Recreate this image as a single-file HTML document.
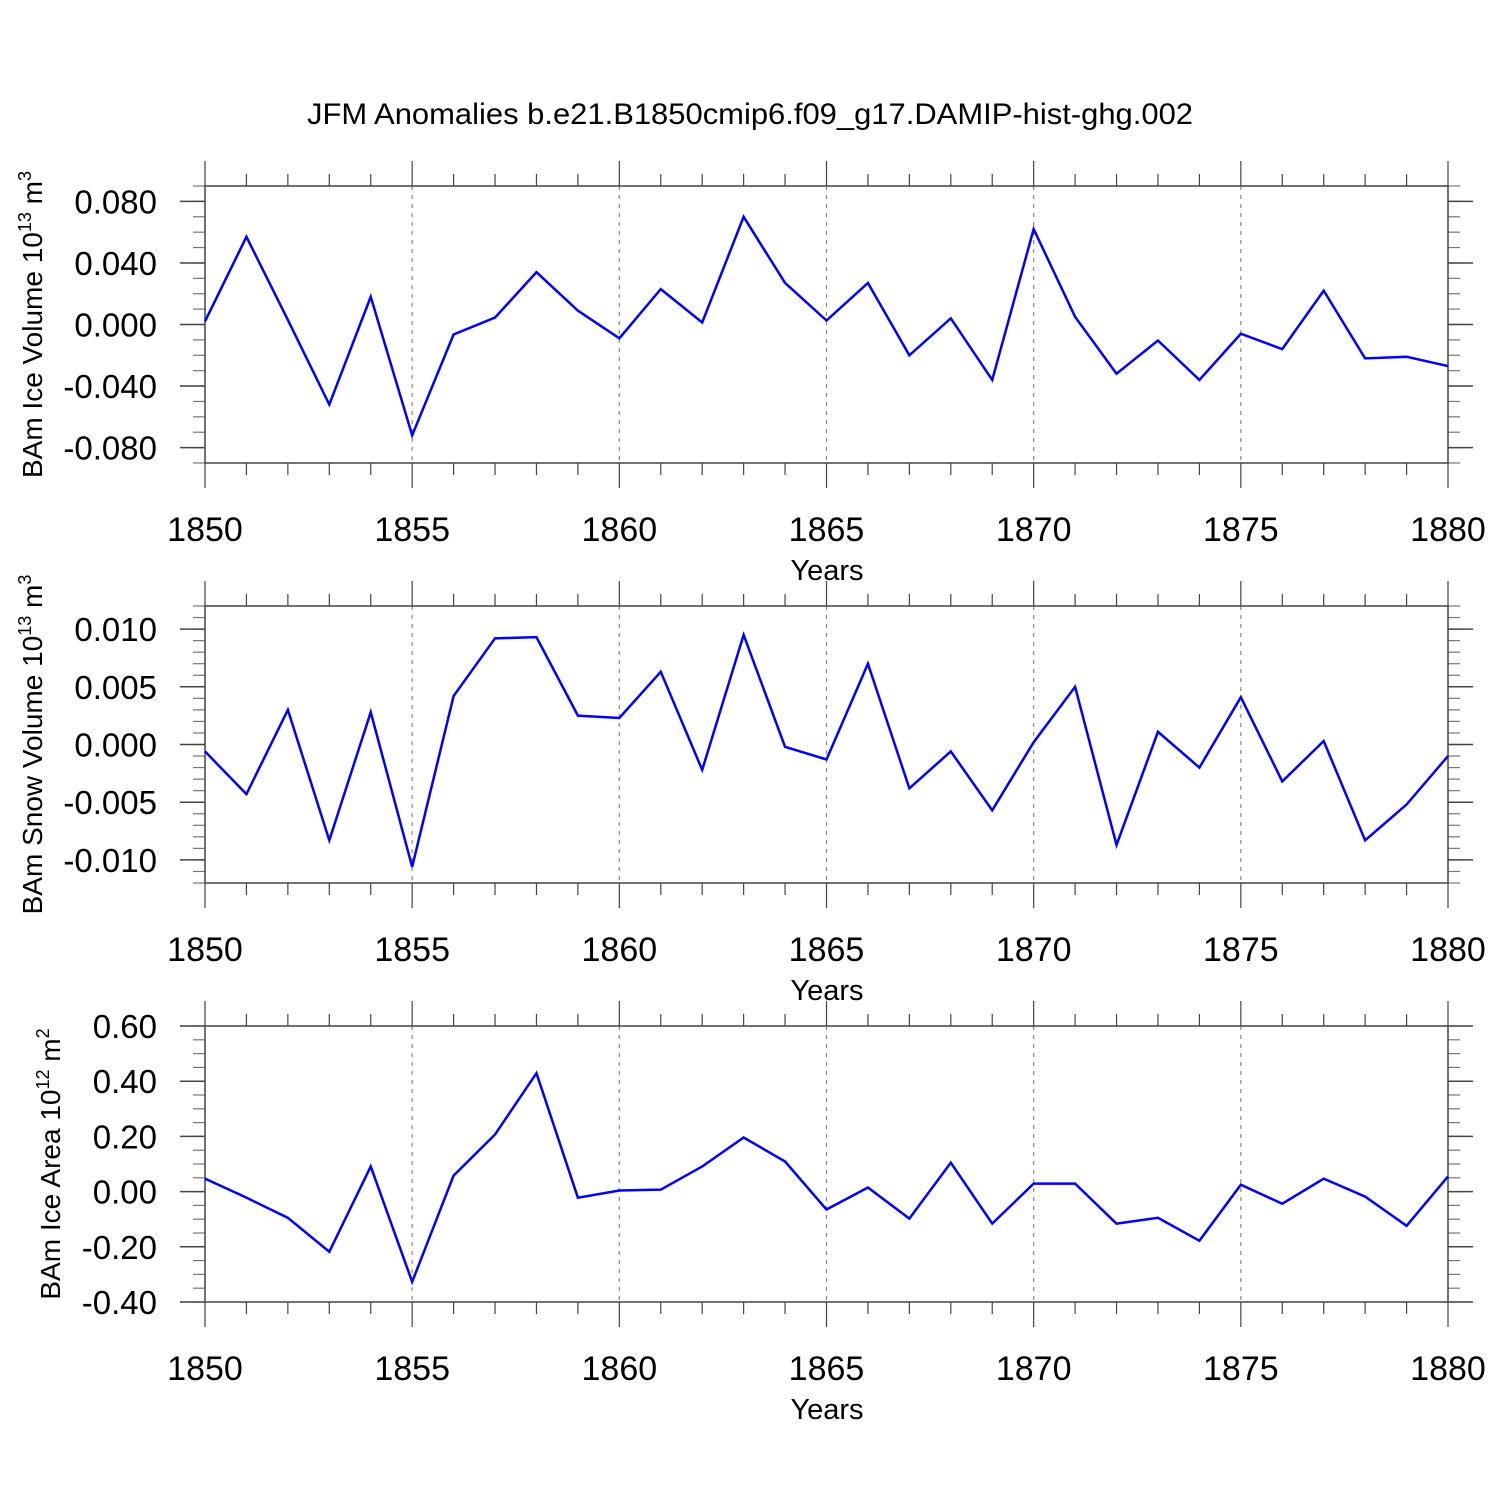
<!DOCTYPE html>
<html><head><meta charset="utf-8"><style>
body{margin:0;background:#fff}
svg text{font-family:"Liberation Sans",sans-serif;fill:#000}
</style></head><body>
<svg id="c" width="1500" height="1500" xmlns="http://www.w3.org/2000/svg">
<text x="750" y="124" font-size="30" text-anchor="middle" textLength="886" lengthAdjust="spacingAndGlyphs">JFM Anomalies b.e21.B1850cmip6.f09_g17.DAMIP-hist-ghg.002</text>
</svg>
<script>
const years = [];
for (let y = 1850; y <= 1880; y++) years.push(y);
const iceVolume = [0.002,0.057,0.003,-0.052,0.018,-0.072,-0.0065,0.0045,0.034,0.009,-0.009,0.023,0.0013,0.070,0.027,0.0026,0.027,-0.020,0.004,-0.036,0.062,0.005,-0.032,-0.0104,-0.036,-0.006,-0.016,0.022,-0.022,-0.021,-0.027];
const snowVolume = [-0.0006,-0.0043,0.003,-0.0083,0.0028,-0.0106,0.0042,0.0092,0.0093,0.0025,0.0023,0.0063,-0.0022,0.0095,-0.0002,-0.0013,0.007,-0.0038,-0.0006,-0.0057,0.0002,0.005,-0.0087,0.0011,-0.002,0.0041,-0.0032,0.0003,-0.0083,-0.0052,-0.001];
const iceArea = [0.047,-0.022,-0.095,-0.218,0.091,-0.327,0.058,0.207,0.429,-0.022,0.004,0.007,0.091,0.196,0.109,-0.065,0.015,-0.098,0.105,-0.116,0.029,0.029,-0.116,-0.095,-0.178,0.025,-0.044,0.047,-0.018,-0.124,0.055];
const xTickLabels = ["1850","1855","1860","1865","1870","1875","1880"];
const yTicks1 = [0.08,0.04,0,-0.04,-0.08];
const yTicks2 = [0.01,0.005,0,-0.005,-0.01];
const yTicks3 = [0.6,0.4,0.2,0,-0.2,-0.4];

const svg = document.getElementById('c');
const NS = 'http://www.w3.org/2000/svg';
function mk(tag, attrs, parent){const e=document.createElementNS(NS,tag);for(const k in attrs)e.setAttribute(k,attrs[k]);(parent||svg).appendChild(e);return e;}
const X0=205,X1=1448;
const xs = y => X0 + (y-1850)*(X1-X0)/30;

function panel(name, top, bot, ymin, ymax, minorStep, ticks, dec, data, labelParts){
  const g = mk('g',{});
  
  
  const ys = v => bot - (v-ymin)*(bot-top)/(ymax-ymin);
  for (let y=1855;y<=1875;y+=5){
    const l=mk('line',{x1:xs(y),x2:xs(y),y1:top,y2:bot,stroke:'#888','stroke-width':1.2,'stroke-dasharray':'4,5'},g);
    
    
  }
  const st='#444';
  for (let y=1850;y<=1880;y++){
    const len = (y%5===0)?25:12;
    mk('line',{x1:xs(y),x2:xs(y),y1:top,y2:top-len,stroke:st,'stroke-width':1.2},g);
    mk('line',{x1:xs(y),x2:xs(y),y1:bot,y2:bot+len,stroke:st,'stroke-width':1.2},g);
  }
  const n = Math.round((ymax-ymin)/minorStep);
  for (let i=0;i<=n;i++){
    const v=ymin+i*minorStep, yy=ys(v);
    mk('line',{x1:X0,x2:X0-12,y1:yy,y2:yy,stroke:'#777','stroke-width':1.2},g);
    mk('line',{x1:X1,x2:X1+12,y1:yy,y2:yy,stroke:'#777','stroke-width':1.2},g);
  }
  ticks.forEach(v=>{
    const yy=ys(v);
    mk('line',{x1:X0,x2:X0-25,y1:yy,y2:yy,stroke:st,'stroke-width':1.5},g);
    mk('line',{x1:X1,x2:X1+25,y1:yy,y2:yy,stroke:st,'stroke-width':1.5},g);
    const t=mk('text',{x:157,y:yy+12,'font-size':33,'text-anchor':'end'},g);
    
    
    t.textContent=v.toFixed(dec);
  });
  const box=mk('rect',{x:X0,y:top,width:X1-X0,height:bot-top,fill:'none',stroke:st,'stroke-width':1.5},g);
  
  
  xTickLabels.forEach(s=>{
    const t=mk('text',{x:xs(+s),y:bot+78,'font-size':34,'text-anchor':'middle'},g);
    
    
    t.textContent=s;
  });
  const xt=mk('text',{x:827,y:bot+117,'font-size':29,'text-anchor':'middle'},g);
  
  
  xt.textContent='Years';
  const cy=(top+bot)/2;
  const yt=mk('text',{x:0,y:0,'font-size':28,'text-anchor':'middle',transform:`translate(${labelParts[3]},${cy}) rotate(-90)`},g);
  
  
  yt.innerHTML=`${labelParts[0]}<tspan dy="-11" font-size="18">${labelParts[1]}</tspan><tspan dy="11"> m</tspan><tspan dy="-11" font-size="18">${labelParts[2]}</tspan>`;
  const pts=data.map((v,i)=>xs(years[i])+','+ys(v)).join(' ');
  const pl=mk('polyline',{points:pts,fill:'none',stroke:'#0000ff','stroke-width':2.5,'stroke-linejoin':'miter'},g);
  
  
}
panel('ice-volume',186,463,-0.09,0.09,0.01,yTicks1,3,iceVolume,['BAm Ice Volume 10','13','3',42]);
panel('snow-volume',606,883,-0.012,0.012,0.001,yTicks2,3,snowVolume,['BAm Snow Volume 10','13','3',42]);
panel('ice-area',1026,1302,-0.4,0.6,0.05,yTicks3,2,iceArea,['BAm Ice Area 10','12','2',60]);
</script>
</body></html>
